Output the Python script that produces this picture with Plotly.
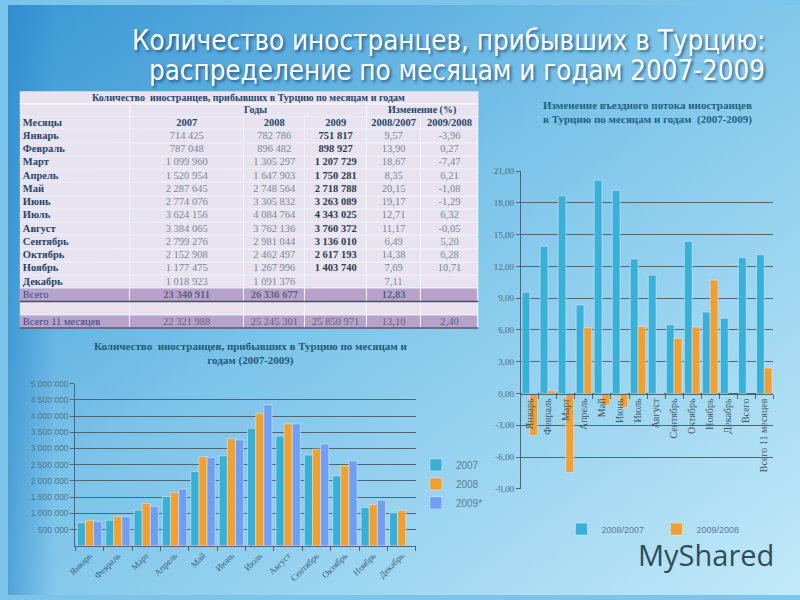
import base64
import plotly.graph_objects as go

# ---------------- data ----------------
months = ["Январь", "Февраль", "Март", "Апрель", "Май", "Июнь", "Июль",
          "Август", "Сентябрь", "Октябрь", "Ноябрь", "Декабрь"]
v2007 = [714425, 787048, 1099960, 1520954, 2287645, 2774076, 3624156,
         3384065, 2799276, 2152908, 1177475, 1018923]
v2008 = [782786, 896482, 1305297, 1647903, 2748564, 3305832, 4084764,
         3762136, 2981044, 2462497, 1267996, 1091376]
v2009 = [751817, 898927, 1207729, 1750281, 2718788, 3263089, 4343025,
         3760372, 3136010, 2617193, 1403740, None]
chg_0807 = [9.57, 13.90, 18.67, 8.35, 20.15, 19.17, 12.71, 11.17, 6.49, 14.38, 7.69, 7.11]
chg_0908 = [-3.96, 0.27, -7.47, 6.21, -1.08, -1.29, 6.32, -0.05, 5.20, 6.28, 10.71, None]

total_labels = ["Всего", "Всего 11 месяцев"]
tot2007 = [23340911, 22321988]
tot2008 = [26336677, 25245301]
tot2009 = [None, 25850971]
tot_0807 = [12.83, 13.10]
tot_0908 = [None, 2.40]

table_header = ["Месяцы", "2007", "2008", "2009", "2008/2007", "2009/2008"]
table_colwidths = [111, 115, 62, 62, 55, 58]
left_yticks = [500000, 1000000, 1500000, 2000000, 2500000, 3000000,
               3500000, 4000000, 4500000, 5000000]
right_yticks = [-9, -6, -3, 0, 3, 6, 9, 12, 15, 18, 21]
series_names_left = ["2007", "2008", "2009*"]
series_names_right = ["2008/2007", "2009/2008"]


def fint(n):
    return "" if n is None else f"{n:,}".replace(",", " ")


def fpct(x):
    return "" if x is None else f"{x:.2f}".replace(".", ",")


# ---------------- background ----------------
svg = """<svg xmlns='http://www.w3.org/2000/svg' width='800' height='600' preserveAspectRatio='none'>
<defs><linearGradient id='g' x1='0' y1='0' x2='1' y2='1'>
<stop offset='0' stop-color='#3a97d4'/><stop offset='0.45' stop-color='#7cc4ea'/>
<stop offset='1' stop-color='#c2e9f8'/></linearGradient>
<linearGradient id='h' x1='0' y1='0' x2='1' y2='0'>
<stop offset='0' stop-color='#2a86c8' stop-opacity='0.55'/>
<stop offset='0.06' stop-color='#2a86c8' stop-opacity='0'/></linearGradient></defs>
<rect width='800' height='600' fill='url(#g)'/><rect width='800' height='600' fill='url(#h)'/>
</svg>"""
bg_src = "data:image/svg+xml;base64," + base64.b64encode(svg.encode()).decode()

W, H = 800.0, 600.0
def px(x):
    return x / W
def py(y):
    return 1 - y / H

fig = go.Figure()

# ---------------- table (as a cartesian grid) ----------------
base = "#e9e3ef"
purple = "#b7a3ca"
dark = "#23466a"
gray = "#7b8894"
tot_col = "#3b4a86"
tot_num = "#5d6478"

col_edges = [0]
for w in table_colwidths:
    col_edges.append(col_edges[-1] + w)
n_body = 16  # header row + 12 months + total + blank + total 11 months
row_edges = list(range(n_body + 1))
z = [[1 if r in (13, 15) else 0 for _ in table_colwidths] for r in range(n_body)]

fig.add_trace(go.Heatmap(
    x=col_edges, y=row_edges, z=z, zmin=0, zmax=1,
    colorscale=[[0, base], [1, purple]], showscale=False,
    xgap=1, ygap=1, hoverinfo="skip", xaxis="x3", yaxis="y3"))

cols_text = [
    ["<b>%s</b>" % table_header[0]] + ["<b>%s</b>" % m for m in months]
    + [total_labels[0], "", total_labels[1]],
    ["<b>%s</b>" % table_header[1]] + [fint(v) for v in v2007]
    + ["<b>%s</b>" % fint(tot2007[0]), "", fint(tot2007[1])],
    ["<b>%s</b>" % table_header[2]] + [fint(v) for v in v2008]
    + ["<b>%s</b>" % fint(tot2008[0]), "", fint(tot2008[1])],
    ["<b>%s</b>" % table_header[3]] + ["<b>%s</b>" % fint(v) if v else "" for v in v2009]
    + [fint(tot2009[0]), "", fint(tot2009[1])],
    ["<b>%s</b>" % table_header[4]] + [fpct(v) for v in chg_0807]
    + ["<b>%s</b>" % fpct(tot_0807[0]), "", fpct(tot_0807[1])],
    ["<b>%s</b>" % table_header[5]] + [fpct(v) for v in chg_0908]
    + [fpct(tot_0908[0]), "", fpct(tot_0908[1])],
]
col_base_colors = [dark, gray, gray, "#2b3e52", gray, gray]
rows_y = [r + 0.5 for r in range(n_body)]
for ci, texts in enumerate(cols_text):
    c = col_base_colors[ci]
    tc = [dark] + [c] * 12 + ([tot_col, base, tot_col] if ci == 0 else [tot_num, base, tot_num])
    if ci == 0:
        xs = [col_edges[0] + 3] * n_body
        pos = "middle right"
    else:
        xs = [(col_edges[ci] + col_edges[ci + 1]) / 2] * n_body
        pos = "middle center"
    fig.add_trace(go.Scatter(
        x=xs, y=rows_y, text=texts, mode="text", textposition=pos,
        textfont=dict(family="Liberation Serif", size=10.5, color=tc),
        hoverinfo="skip", showlegend=False, cliponaxis=False,
        xaxis="x3", yaxis="y3"))

# ---------------- left grouped bar chart ----------------
left_colors = ["#38b0d6", "#f0a030", "#6f9ff4"]
for name, vals, c in zip(series_names_left, [v2007, v2008, v2009], left_colors):
    fig.add_trace(go.Bar(x=months, y=vals, name=name, marker_color=c,
                         xaxis="x", yaxis="y", legend="legend"))

# ---------------- right bar chart ----------------
right_cats = months + total_labels
right_colors = ["#38b0d8", "#f0a032"]
for name, vals, c in zip(series_names_right,
                         [chg_0807 + tot_0807, chg_0908 + tot_0908], right_colors):
    fig.add_trace(go.Bar(x=right_cats, y=vals, name=name, marker_color=c,
                         xaxis="x2", yaxis="y2", legend="legend2"))

r_lo, r_hi = right_yticks[0], right_yticks[-1]
r_dom = [py(492), py(169)]
zero_pos = r_dom[0] + (0 - r_lo) / (r_hi - r_lo) * (r_dom[1] - r_dom[0])

grid = "#4f6672"
fig.update_layout(
    width=800, height=600,
    margin=dict(l=0, r=0, t=0, b=0),
    paper_bgcolor="#7cc4ea", plot_bgcolor="rgba(0,0,0,0)",
    barmode="group",
    images=[dict(source=bg_src, xref="paper", yref="paper", x=0, y=1,
                 sizex=1, sizey=1, sizing="stretch", layer="below")],
    xaxis=dict(domain=[px(68), px(412)], anchor="y", tickangle=-45,
               tickfont=dict(family="Liberation Serif", size=9, color="#3e6177"),
               showline=True, linecolor=grid, ticks="outside", ticklen=4,
               tickcolor=grid, tickson="boundaries", showgrid=False),
    yaxis=dict(domain=[py(550), py(385)], anchor="x", range=[0, 5000000],
               tickvals=left_yticks, ticktext=[fint(v) for v in left_yticks],
               tickfont=dict(family="Liberation Sans", size=8.5, color="#557488"),
               showgrid=True, gridcolor=grid, gridwidth=1,
               showline=True, linecolor=grid, ticks="outside", ticklen=4,
               tickcolor=grid, zeroline=False),
    xaxis2=dict(domain=[px(518), px(773)], anchor="free", position=zero_pos,
                tickangle=-90,
                tickfont=dict(family="Liberation Serif", size=10, color="#3e5566"),
                showline=True, linecolor=grid, ticks="outside", ticklen=4,
                tickcolor=grid, tickson="boundaries", showgrid=False),
    yaxis2=dict(domain=r_dom, anchor="x2", range=[r_lo, r_hi],
                tickvals=right_yticks, ticktext=[fpct(v) for v in right_yticks],
                tickfont=dict(family="Liberation Serif", size=9, color="#4d6a7c"),
                showgrid=True, gridcolor=grid, gridwidth=1,
                showline=True, linecolor=grid, ticks="outside", ticklen=4,
                tickcolor=grid, zeroline=False),
    xaxis3=dict(domain=[px(12), px(475)], anchor="y3", range=[0, col_edges[-1]],
                visible=False, fixedrange=True),
    yaxis3=dict(domain=[py(329), py(113.3)], anchor="x3", range=[n_body, 0],
                visible=False, fixedrange=True),
    bargap=0.14, bargroupgap=0.0,
    legend=dict(x=px(412), y=py(487), xanchor="left", yanchor="middle",
                bgcolor="rgba(0,0,0,0)", itemwidth=30,
                font=dict(family="Liberation Sans", size=10, color="#5a7d92"),
                tracegroupgap=0),
    legend2=dict(x=px(655), y=py(533), xanchor="center", yanchor="middle",
                 orientation="h", bgcolor="rgba(0,0,0,0)", itemwidth=30,
                 entrywidth=50, entrywidthmode="pixels",
                 font=dict(family="Liberation Sans", size=9, color="#5a7d92")),
    showlegend=True,
)

# ---------------- texts ----------------
title_font = dict(family="Liberation Sans Narrow, DejaVu Sans Condensed, Liberation Sans",
                  size=27.5, color="white", shadow="2px 2px 3px rgba(0,40,80,0.6)")
ann = [
    dict(text="Количество иностранцев, прибывших в Турцию:", x=px(445), y=py(36),
         font=title_font),
    dict(text="распределение по месяцам и годам 2007-2009", x=px(454), y=py(66),
         font=title_font),
    dict(text="<b>Количество  иностранцев, прибывших в Турцию по месяцам и годам</b>",
         x=px(243), y=py(94),
         font=dict(family="Liberation Serif", size=10, color=dark)),
    dict(text="<b>Годы</b>", x=px(250), y=py(106.5),
         font=dict(family="Liberation Serif", size=10, color=dark)),
    dict(text="<b>Изменение (%)</b>", x=px(418), y=py(106.5),
         font=dict(family="Liberation Serif", size=10, color=dark)),
    dict(text="<b>Количество  иностранцев, прибывших в Турцию по месяцам и<br>годам (2007-2009)</b>",
         x=px(245), y=py(354),
         font=dict(family="Liberation Serif", size=11, color="#1f5a74")),
    dict(text="<b>Изменение въездного потока иностранцев<br>в Турцию по месяцам и годам  (2007-2009)</b>",
         x=px(646), y=py(109),
         font=dict(family="Liberation Serif", size=11, color="#22627e")),
    dict(text="MyShared", x=px(705), y=py(559),
         font=dict(family="Open Sans, Liberation Sans", size=29, color="#2f4d58")),
]
for a in ann:
    a.update(xref="paper", yref="paper", showarrow=False, xanchor="center", yanchor="middle")
fig.update_layout(annotations=ann)

shapes = [
    dict(type="rect", x0=px(12), x1=px(475), y0=py(329), y1=py(88),
         fillcolor="rgba(255,255,255,0.85)", line=dict(width=0), layer="below"),
    dict(type="rect", x0=px(12), x1=px(475), y0=py(112.8), y1=py(88),
         fillcolor=base, line=dict(width=0), layer="below"),
    dict(type="line", x0=px(12), x1=px(475), y0=py(100.5), y1=py(100.5),
         line=dict(color="white", width=1)),
    dict(type="line", x0=px(123), x1=px(123), y0=py(100.5), y1=py(113.3),
         line=dict(color="white", width=1)),
    dict(type="line", x0=px(362), x1=px(362), y0=py(100.5), y1=py(113.3),
         line=dict(color="white", width=1)),
    dict(type="line", x0=px(12), x1=px(475), y0=py(301.6), y1=py(301.6),
         line=dict(color="#4a4a66", width=1.5)),
    dict(type="line", x0=px(12), x1=px(475), y0=py(328.5), y1=py(328.5),
         line=dict(color="#4a4a66", width=1.5)),
]
for s in shapes:
    s.update(xref="paper", yref="paper")
fig.update_layout(shapes=shapes)

fig.write_html("out.html", config={"displayModeBar": False},
               post_script="document.body.style.margin='0px';")
